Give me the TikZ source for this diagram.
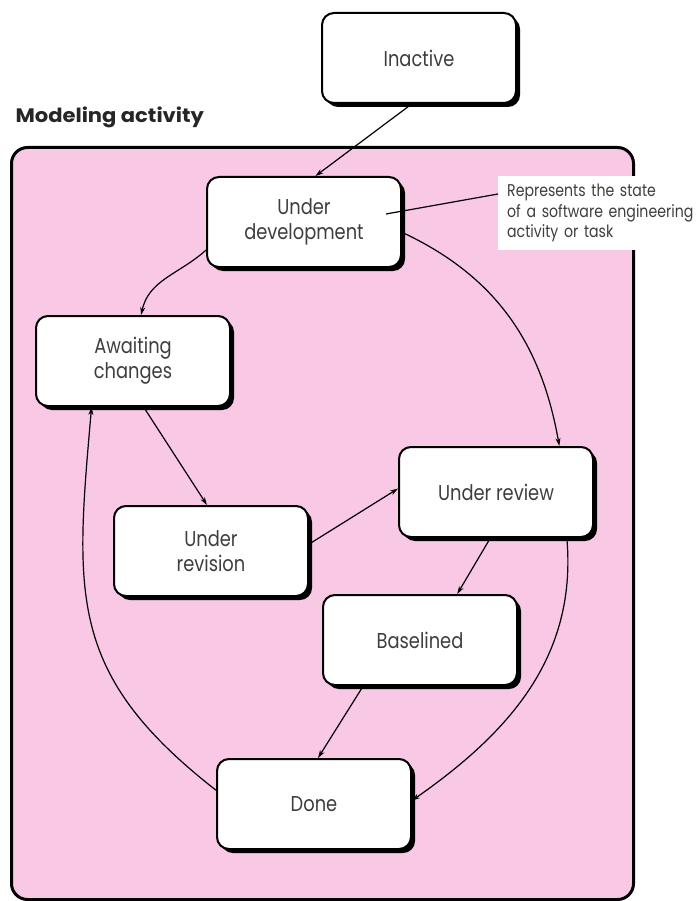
\documentclass[tikz,border=0pt]{standalone}
\usepackage{fontspec}
\setmainfont{Poppins}[FakeStretch=0.83]
\newfontfamily\titlefont{Poppins}[FakeStretch=1.08]
\usetikzlibrary{arrows.meta,shadows}
\definecolor{modelpink}{RGB}{248,200,228}
\definecolor{stategray}{RGB}{62,62,62}

\begin{document}
\begin{tikzpicture}[x=1pt, y=1pt,
    state/.style={draw, line width=2pt, rounded corners=12pt, fill=white,
      minimum width=194pt, minimum height=90pt, align=center, inner sep=2pt,
      text=stategray, font=\fontsize{21.5}{25}\selectfont,
      drop shadow={fill=black, opacity=1, shadow xshift=4pt, shadow yshift=-4pt}},
    trans/.style={-{Stealth[length=8pt, width=5pt]}, line width=1.2pt},
  ]
  \useasboundingbox (0,0) rectangle (700,-901);

  % composite state
  \node[draw, line width=3pt, rounded corners=16pt, fill=modelpink, anchor=north west,
        minimum width=622pt, minimum height=752pt] (activity) at (10,-146) {};
  \node[anchor=base west, text=black!85, font=\titlefont\fontsize{19.5}{24}\selectfont\bfseries]
        (title) at (12,-123) {Modeling activity};

  % states
  \node[state] at (419, -58)  (inactive)  {Inactive};
  \node[state] at (304, -222) (dev)       {Under\\development};
  \node[state] at (133, -361) (await)     {Awaiting\\changes};
  \node[state] at (496, -492) (review)    {Under review};
  \node[state] at (211, -551) (revision)  {Under\\revision};
  \node[state] at (420, -640) (baselined) {Baselined};
  \node[state] at (314, -804) (done)      {Done};

  % note
  \node[fill=white, anchor=west, minimum height=73pt, text width=240pt,
        align=left, inner xsep=9pt, inner ysep=0pt, text=stategray,
        font=\fontsize{17}{20.5}\selectfont] at (498,-213) (note)
        {Represents the state\\of a software engineering\\activity or task};
  \coordinate (ptr) at (386,-214);
  \draw[line width=1.2pt] (ptr) -- (note.west |- 0,-194);

  % transitions
  \draw[trans] (inactive.261) -- (dev.76);
  \draw[trans] (dev.196) to[out=222, in=78] (await.80);
  \draw[trans] (dev.-6) to[out=-25, in=100] (review.36);
  \draw[trans] (await.283) -- (revision.95);
  \draw[trans] (revision.4) -- (review.178);
  \draw[trans] (review.263) -- (baselined.51);
  \draw[trans] (baselined.219) -- (done.85);
  \draw[trans] (review.-33) to[out=-85, in=35] (done.2);
  \draw[trans] (done.172) to[out=142, in=-95, looseness=1.2] (await.228);
\end{tikzpicture}
\end{document}
